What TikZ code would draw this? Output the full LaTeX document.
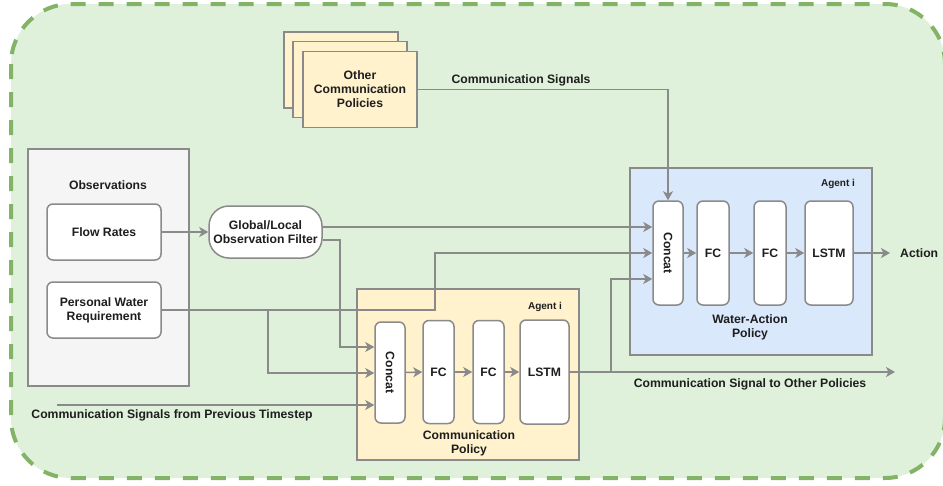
\documentclass[tikz,border=0pt]{standalone}
\usepackage{fontspec}
\setmainfont{Liberation Sans}
\usetikzlibrary{arrows.meta}
\definecolor{bggreen}{HTML}{DFF0DB}
\definecolor{dashgreen}{HTML}{82B366}
\definecolor{polyellow}{HTML}{FFF2CC}
\definecolor{polblue}{HTML}{DAE8FC}
\definecolor{obsgray}{HTML}{F5F5F5}
\definecolor{linegray}{HTML}{8A8A8A}
\definecolor{inkgray}{HTML}{1E1E1E}

\begin{document}
\begin{tikzpicture}[x=1pt,y=-1pt,
  font=\fontsize{12.2}{14}\selectfont\bfseries, text=inkgray,
  frame/.style={draw=linegray,line width=1.5pt,inner sep=0pt},
  block/.style={frame,fill=white,rounded corners=6pt,align=center},
  layer/.style={block,minimum width=31pt,minimum height=103pt},
  stack/.style={frame,fill=polyellow,minimum width=114pt,minimum height=76pt,align=center},
  link/.style={draw=linegray,line width=1.5pt,-{Stealth[length=9pt,width=10pt,inset=2.5pt]}},
  tag/.style={font=\fontsize{10}{12}\selectfont\bfseries}]
\useasboundingbox (0,0) rectangle (943,485);
% Background
\draw[draw=dashgreen,line width=4pt,dash pattern=on 15pt off 13pt,fill=bggreen,rounded corners=60pt] (11,4) rectangle (945,478);
% Other communication policies
\node[stack] (other3) at (341,70) {};
\node[stack] (other2) at (350,79.5) {};
\node[stack] (other) at (360,89.5) {Other\\Communication\\Policies};
\node (sigtext) at (521,80) {Communication Signals};
% Observations
\node[frame,fill=obsgray,minimum width=161pt,minimum height=237pt] (obs) at (108.5,267.5) {};
\node (obstitle) at (108,185) {Observations};
\node[block,minimum width=114pt,minimum height=56pt] (flow) at (104,232) {Flow Rates};
\node[block,minimum width=114pt,minimum height=56pt] (water) at (104,310) {Personal Water\\Requirement};
\node[block,rounded corners=20pt,minimum width=113pt,minimum height=52pt] (filter) at (265.5,232) {Global/Local\\Observation Filter};
% Communication policy
\node[frame,fill=polyellow,minimum width=222pt,minimum height=171pt] (commbox) at (468,374.5) {};
\node[tag] (commtag) at (545,307) {Agent i};
\node[layer,minimum width=30pt,minimum height=101pt] (cconcat) at (390,372.5) {\rotatebox{-90}{Concat}};
\node[layer] (cfc1) at (438.5,372) {FC};
\node[layer] (cfc2) at (488.5,372) {FC};
\node[layer,minimum width=49pt,minimum height=104pt] (clstm) at (544.5,372) {LSTM};
\node[align=center] (commname) at (469,443) {Communication\\Policy};
% Water-action policy
\node[frame,fill=polblue,minimum width=242pt,minimum height=187pt] (actbox) at (751,261.5) {};
\node[tag] (acttag) at (838,184) {Agent i};
\node[layer,minimum width=30pt,minimum height=104pt] (wconcat) at (668,253) {\rotatebox{-90}{Concat}};
\node[layer,minimum width=32pt,minimum height=104pt] (wfc1) at (713,253) {FC};
\node[layer,minimum width=32pt,minimum height=104pt] (wfc2) at (770,253) {FC};
\node[layer,minimum width=48pt,minimum height=104pt] (wlstm) at (829,253) {LSTM};
\node[align=center] (actname) at (750,327) {Water-Action\\Policy};
% Free ends and labels
\coordinate (prevstart) at (57,405);
\coordinate (outend) at (895,372);
\coordinate (actionend) at (890,253);
\node[anchor=west,inner sep=0pt] (actlabel) at (900,253) {Action};
\node (prevtext) at (172,415) {Communication Signals from Previous Timestep};
\node (outtext) at (750,384) {Communication Signal to Other Policies};
% Connections
\draw[link] (flow) -- (filter);
\draw[link] (filter.east |- 0,227) -- (wconcat.west |- 0,227);
\draw[link] (filter.east |- 0,240) -- (340,240) -- (340,347) -- (cconcat.west |- 0,347);
\draw[link] (water.east) -- (435,310) -- (435,253) -- (wconcat.west);
\draw[link] (268,310) -- (268,373) -- (cconcat.west |- 0,373);
\draw[link] (prevstart) -- (cconcat.west |- 0,405);
\draw[link] (cconcat.east) -- (cfc1.west);
\draw[link] (cfc1) -- (cfc2);
\draw[link] (cfc2) -- (clstm);
\draw[link] (clstm) -- (outend);
\draw[link] (611,372) |- (wconcat.west |- 0,279);
\draw[link] (other.east) -| (wconcat.north);
\draw[link] (wconcat) -- (wfc1);
\draw[link] (wfc1) -- (wfc2);
\draw[link] (wfc2) -- (wlstm);
\draw[link] (wlstm) -- (actionend);
\end{tikzpicture}
\end{document}
